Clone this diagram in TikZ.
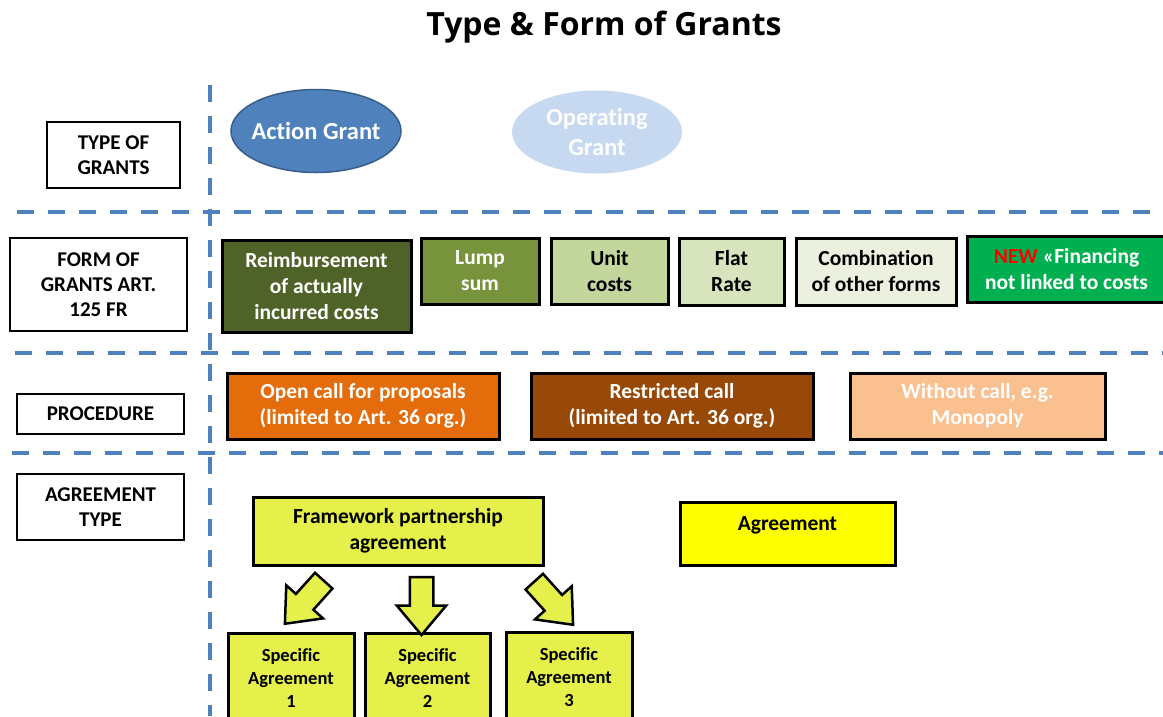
\documentclass[tikz,border=0pt]{standalone}
\usepackage{fontspec}
\setmainfont{Carlito}[Ligatures=NoCommon]
\newfontfamily\titlefont{Open Sans}
\usetikzlibrary{shapes.geometric,shapes.arrows}
\definecolor{lineblue}{HTML}{4F81BD}
\definecolor{actblue}{HTML}{4F81BD}
\definecolor{actborder}{HTML}{385D8A}
\definecolor{opblue}{HTML}{C6D9F1}
\definecolor{olive1}{HTML}{4F6228}
\definecolor{olive2}{HTML}{77933C}
\definecolor{olive3}{HTML}{C3D69B}
\definecolor{olive4}{HTML}{D7E4BD}
\definecolor{olive5}{HTML}{EBF1DE}
\definecolor{newgreen}{HTML}{00B050}
\definecolor{orange1}{HTML}{E46C0A}
\definecolor{brown1}{HTML}{984807}
\definecolor{peach1}{HTML}{FAC090}
\definecolor{yelgreen}{HTML}{E5F04B}
\definecolor{yel}{HTML}{FFFF00}
\tikzset{
  x=1pt, y=-1pt,
  sep/.style={draw=lineblue, line width=4pt, dash pattern=on 17pt off 14pt},
  lbl/.style={draw=black, line width=2.5pt, fill=white, align=center, inner sep=0pt,
    font=\fontsize{21}{25}\selectfont\bfseries},
  boxfont/.style={font=\fontsize{21.5}{26}\selectfont\bfseries},
  cbox/.style={draw=black, line width=3pt, align=center, inner sep=0pt, boxfont},
  sbox/.style={draw=black, line width=3pt, align=center, inner sep=0pt, fill=yelgreen,
    minimum height=90pt, font=\fontsize{18.5}{23}\selectfont\bfseries},
  gfont/.style={align=center, text=white, inner sep=0pt, font=\fontsize{24.5}{30}\selectfont\bfseries},
  grant/.style={ellipse, inner sep=0pt, minimum width=170pt, minimum height=83pt},
  barrow/.style={shape=single arrow, draw=black, line width=2.5pt, fill=yelgreen,
    minimum height=58pt, single arrow head extend=13pt, inner xsep=0pt, inner ysep=10.5pt,
    single arrow tip angle=80}
}
\begin{document}
\begin{tikzpicture}
\useasboundingbox (0,0) rectangle (1163,716);
% separators
\coordinate (v1) at (210,85); \coordinate (v2) at (210,716);
\coordinate (h1a) at (17,212); \coordinate (h1b) at (1163,212);
\coordinate (h2a) at (15,353); \coordinate (h2b) at (1163,353);
\coordinate (h3a) at (12,453); \coordinate (h3b) at (1163,453);
\draw[sep] (v1) -- (v2);
\draw[sep] (h1a) -- (h1b);
\draw[sep] (h2a) -- (h2b);
\draw[sep] (h3a) -- (h3b);
% title
\node[font=\titlefont\bfseries\fontsize{32}{38}\selectfont] (title) at (604,27) {Type \& Form of Grants};
% left labels
\node[lbl, minimum width=133pt, minimum height=66pt] (tog) at (113.5,155) {TYPE OF\\GRANTS};
\node[lbl, minimum width=177pt, minimum height=93pt] (fog) at (98.5,284.5) {FORM OF\\GRANTS ART.\\125 FR};
\node[lbl, minimum width=167pt, minimum height=40pt] (proc) at (100.5,414) {PROCEDURE};
\node[lbl, minimum width=167pt, minimum height=66pt] (agt) at (100.5,507) {AGREEMENT\\TYPE};
% type of grants
\node[grant, fill=actblue, draw=actborder, line width=1.5pt,
  label={[gfont]center:Action Grant}] (action) at (316,131) {};
\node[grant, fill=opblue, label={[gfont]center:Operating\\Grant}] (operating) at (597,132) {};
% forms
\node[cbox, fill=olive1, text=white, minimum width=189pt, minimum height=92pt] (reimb) at (316.5,286) {Reimbursement\\of actually\\incurred costs};
\node[cbox, fill=olive2, text=white, minimum width=118pt, minimum height=66pt] (lump) at (480,271) {Lump\\sum};
\node[cbox, fill=olive3, minimum width=117pt, minimum height=66pt] (unit) at (609.5,271) {Unit\\costs};
\node[cbox, fill=olive4, minimum width=105pt, minimum height=67pt] (flat) at (731.5,271.5) {Flat\\Rate};
\node[cbox, fill=olive5, minimum width=160pt, minimum height=67pt] (comb) at (876,271.5) {Combination\\of other forms};
\node[cbox, fill=newgreen, text=white, minimum width=199pt, minimum height=66pt] (new) at (1066.5,269) {{\color{red}NEW} «Financing\\not linked to costs};
% procedures
\node[cbox, fill=orange1, text=white, minimum width=272pt, minimum height=66pt] (open) at (363,406) {Open call for proposals\\(limited to Art. 36 org.)};
\node[cbox, fill=brown1, text=white, minimum width=282pt, minimum height=66pt] (restr) at (672,406) {Restricted call\\(limited to Art. 36 org.)};
\node[cbox, fill=peach1, text=white, minimum width=255pt, minimum height=66pt] (without) at (977.5,406) {Without call, e.g.\\Monopoly};
% agreements
\node[cbox, fill=yelgreen, minimum width=290pt, minimum height=68pt] (fpa) at (398,531) {Framework partnership\\agreement};
\node[cbox, fill=yel, minimum width=215pt, minimum height=63pt,
  label={[boxfont, inner sep=0pt, yshift=8pt]center:Agreement}] (agr) at (787.5,533.5) {};
\node[sbox, minimum width=126pt] (s1) at (291,678) {Specific\\Agreement\\1};
\node[sbox, minimum width=125pt] (s2) at (427.5,678) {Specific\\Agreement\\2};
\node[sbox, minimum width=126pt] (s3) at (569,677) {Specific\\Agreement\\3};
% block arrows
\node[barrow, rotate=-132] (a1) at (309,597) {};
\node[barrow, rotate=-90] (a2) at (421.5,599) {};
\node[barrow, rotate=-48] (a3) at (549,598) {};
\end{tikzpicture}
\end{document}
